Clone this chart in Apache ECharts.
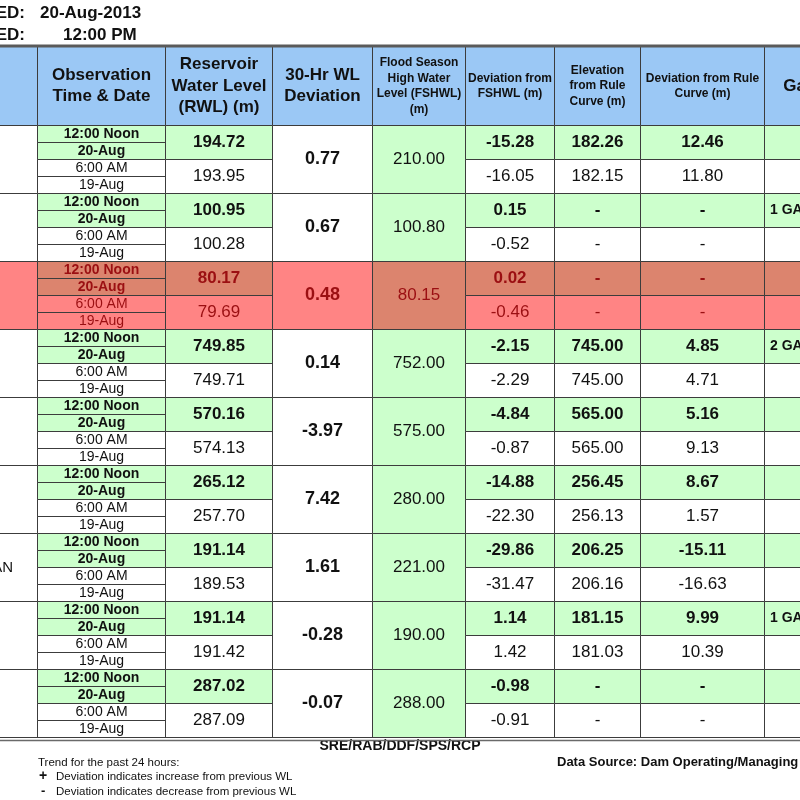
<!DOCTYPE html>
<html><head><meta charset="utf-8">
<script src="https://cdn.jsdelivr.net/npm/echarts@6/dist/echarts.min.js"></script>
<style>html,body{margin:0;padding:0;background:#fff}#c{width:800px;height:800px}</style>
</head><body><div id="c"></div>
<script>
// ---------- data ----------
const damNames = ['ANGAT','IPO','LA MESA','AMBUKLAO','BINGA','SAN\nROQUE','PANTABANGAN','MAGAT','CALIRAYA'];
const timeLabels = ['12:00 Noon','20-Aug','6:00 AM','19-Aug'];
const headerLabels = ['', 'Observation\nTime & Date', 'Reservoir\nWater Level\n(RWL) (m)', '30-Hr WL\nDeviation',
  'Flood Season\nHigh Water\nLevel (FSHWL)\n(m)', 'Deviation from\nFSHWL (m)', 'Elevation\nfrom Rule\nCurve (m)',
  'Deviation from Rule\nCurve (m)', 'Gate Opening'];
const rwlNow       = [194.72, 100.95, 80.17, 749.85, 570.16, 265.12, 191.14, 191.14, 287.02];
const rwlPrev      = [193.95, 100.28, 79.69, 749.71, 574.13, 257.70, 189.53, 191.42, 287.09];
const dev30        = [0.77, 0.67, 0.48, 0.14, -3.97, 7.42, 1.61, -0.28, -0.07];
const fshwl        = [210.00, 100.80, 80.15, 752.00, 575.00, 280.00, 221.00, 190.00, 288.00];
const devFshwlNow  = [-15.28, 0.15, 0.02, -2.15, -4.84, -14.88, -29.86, 1.14, -0.98];
const devFshwlPrev = [-16.05, -0.52, -0.46, -2.29, -0.87, -22.30, -31.47, 1.42, -0.91];
const ruleNow      = [182.26, null, null, 745.00, 565.00, 256.45, 206.25, 181.15, null];
const rulePrev     = [182.15, null, null, 745.00, 565.00, 256.13, 206.16, 181.03, null];
const devRuleNow   = [12.46, null, null, 4.85, 5.16, 8.67, -15.11, 9.99, null];
const devRulePrev  = [11.80, null, null, 4.71, 9.13, 1.57, -16.63, 10.39, null];
const gateNow      = ['', '1 GATE OPEN', '', '2 GATES OPEN', '', '', '', '1 GATE OPEN', ''];
const alarmDams    = [2];
const dateText = '20-Aug-2013';
const timeText = '12:00 PM';

// ---------- layout / style ----------
const colEdges = [-123, 37, 165, 272, 372, 465, 554, 640, 764, 913];
const HDR = 79 / 68;
const FF = '"Liberation Sans", Arial, sans-serif';
const C = { blue:'#9bc8f5', green:'#ccffcc', white:'#ffffff', salmon:'#dc846e', pink:'#ff8484',
            text:'#111111', red:'#9b0f12', border:'#3c3c3c' };

const fmt = v => (v === null || v === undefined) ? '-' : v.toFixed(2);

const cells = [];
function add(col, y0, y1, text, kind, alarm) { cells.push({ col, y0, y1, text, kind, alarm }); }

headerLabels.forEach((t, c) => add(c, -HDR, 0, t, (c >= 4 && c <= 7) ? 'hdrSmall' : 'hdrBig', false));
damNames.forEach((name, d) => {
  const al = alarmDams.indexOf(d) >= 0;
  add(0, d, d + 1, name, 'name', al);
  timeLabels.forEach((t, i) => add(1, d + i / 4, d + (i + 1) / 4, t, i < 2 ? 'timeTop' : 'timeBot', al));
  add(2, d, d + 0.5, fmt(rwlNow[d]), 'top', al);
  add(2, d + 0.5, d + 1, fmt(rwlPrev[d]), 'bot', al);
  add(3, d, d + 1, fmt(dev30[d]), 'dev30', al);
  add(4, d, d + 1, fmt(fshwl[d]), 'fshwl', al);
  add(5, d, d + 0.5, fmt(devFshwlNow[d]), 'top', al);
  add(5, d + 0.5, d + 1, fmt(devFshwlPrev[d]), 'bot', al);
  add(6, d, d + 0.5, fmt(ruleNow[d]), 'top', al);
  add(6, d + 0.5, d + 1, fmt(rulePrev[d]), 'bot', al);
  add(7, d, d + 0.5, fmt(devRuleNow[d]), 'top', al);
  add(7, d + 0.5, d + 1, fmt(devRulePrev[d]), 'bot', al);
  add(8, d, d + 0.5, gateNow[d], 'gateTop', al);
  add(8, d + 0.5, d + 1, '', 'bot', al);
});

function styleOf(kind, alarm) {
  const hi = alarm ? C.salmon : C.green, lo = alarm ? C.pink : C.white, col = alarm ? C.red : C.text;
  switch (kind) {
    case 'hdrBig':   return { fill: C.blue, font: 'bold 17px ' + FF, lh: 21.5, color: C.text };
    case 'hdrSmall': return { fill: C.blue, font: 'bold 12px ' + FF, lh: 15.5, color: C.text };
    case 'name':     return { fill: lo, font: '15px ' + FF, lh: 18, color: col };
    case 'timeTop':  return { fill: hi, font: 'bold 14px ' + FF, lh: 16, color: col };
    case 'timeBot':  return { fill: lo, font: '14px ' + FF, lh: 16, color: col };
    case 'top':      return { fill: hi, font: 'bold 17px ' + FF, lh: 20, color: col };
    case 'bot':      return { fill: lo, font: '17px ' + FF, lh: 20, color: col };
    case 'dev30':    return { fill: lo, font: 'bold 18px ' + FF, lh: 20, color: col };
    case 'fshwl':    return { fill: hi, font: '17px ' + FF, lh: 20, color: col };
    case 'gateTop':  return { fill: hi, font: 'bold 14px ' + FF, lh: 16, color: col, left: true };
  }
}

const chart = echarts.init(document.getElementById('c'), null, { renderer: 'canvas' });
chart.setOption({
  animation: false,
  backgroundColor: '#ffffff',
  grid: { left: 0, right: 0, top: 46, bottom: 63 },
  xAxis: { type: 'value', min: 0, max: 800, show: false },
  yAxis: { type: 'value', min: -HDR, max: 9, inverse: true, show: false },
  series: [{
    type: 'custom',
    clip: false,
    encode: { x: 0, y: 1 },
    data: cells.map(c => [c.col, c.y0, c.y1]),
    renderItem: function (params, api) {
      const cell = cells[params.dataIndex];
      const col = api.value(0);
      const a = api.coord([colEdges[col], api.value(1)]);
      const b = api.coord([colEdges[col + 1], api.value(2)]);
      const x0 = Math.round(a[0]), y0 = Math.round(a[1]), x1 = Math.round(b[0]), y1 = Math.round(b[1]);
      const s = styleOf(cell.kind, cell.alarm);
      return {
        type: 'rect',
        shape: { x: x0 + 0.5, y: y0 + 0.5, width: x1 - x0, height: y1 - y0 },
        style: { fill: s.fill, stroke: C.border, lineWidth: 1 },
        textContent: { style: { text: cell.text, font: s.font, fill: s.color, lineHeight: s.lh, align: s.left ? 'left' : 'center' } },
        textConfig: s.left ? { position: 'insideLeft', distance: 6 } : { position: 'inside' }
      };
    }
  }, {
    type: 'custom',
    clip: false,
    encode: { x: 0, y: 1 },
    data: [[0, -HDR, 9]],
    renderItem: function (params, api) {
      const t = api.coord([0, api.value(1)]);
      const b = api.coord([800, api.value(2)]);
      const yt = Math.round(t[1]), yb = Math.round(b[1]);
      return { type: 'group', children: [
        { type: 'line', shape: { x1: 0, y1: yt, x2: 800, y2: yt }, style: { stroke: '#5a5a5a', lineWidth: 3 } },
        { type: 'line', shape: { x1: 0, y1: yb + 0.5, x2: 800, y2: yb + 0.5 }, style: { stroke: '#3c3c3c', lineWidth: 1 } },
        { type: 'line', shape: { x1: 0, y1: yb + 3.5, x2: 800, y2: yb + 3.5 }, style: { stroke: '#6a6a6a', lineWidth: 1.5 } }
      ]};
    }
  }],
  graphic: [
    { type: 'text', x: 25, y: 13, style: { text: 'DATE UPDATED:', font: 'bold 17px ' + FF, fill: '#111', align: 'right', verticalAlign: 'middle' } },
    { type: 'text', x: 40, y: 13, style: { text: dateText, font: 'bold 17px ' + FF, fill: '#111', align: 'left', verticalAlign: 'middle' } },
    { type: 'text', x: 25, y: 35, style: { text: 'TIME UPDATED:', font: 'bold 17px ' + FF, fill: '#111', align: 'right', verticalAlign: 'middle' } },
    { type: 'text', x: 63, y: 35, style: { text: timeText, font: 'bold 17px ' + FF, fill: '#111', align: 'left', verticalAlign: 'middle' } },
    { type: 'text', x: 400, y: 746, style: { text: 'SRE/RAB/DDF/SPS/RCP', font: 'bold 14px ' + FF, fill: '#111', align: 'center', verticalAlign: 'middle' } },
    { type: 'text', x: 557, y: 762, style: { text: 'Data Source: Dam Operating/Managing Agencies', font: 'bold 13px ' + FF, fill: '#111', align: 'left', verticalAlign: 'middle' } },
    { type: 'text', x: 38, y: 763, style: { text: 'Trend for the past 24 hours:', font: '11.5px ' + FF, fill: '#111', align: 'left', verticalAlign: 'middle' } },
    { type: 'text', x: 39, y: 776, style: { text: '+', font: 'bold 14px ' + FF, fill: '#111', align: 'left', verticalAlign: 'middle' } },
    { type: 'text', x: 56, y: 777, style: { text: 'Deviation indicates increase from previous WL', font: '11.5px ' + FF, fill: '#111', align: 'left', verticalAlign: 'middle' } },
    { type: 'text', x: 41, y: 791, style: { text: '-', font: 'bold 13px ' + FF, fill: '#111', align: 'left', verticalAlign: 'middle' } },
    { type: 'text', x: 56, y: 792, style: { text: 'Deviation indicates decrease from previous WL', font: '11.5px ' + FF, fill: '#111', align: 'left', verticalAlign: 'middle' } }
  ]
});
</script>
</body></html>
